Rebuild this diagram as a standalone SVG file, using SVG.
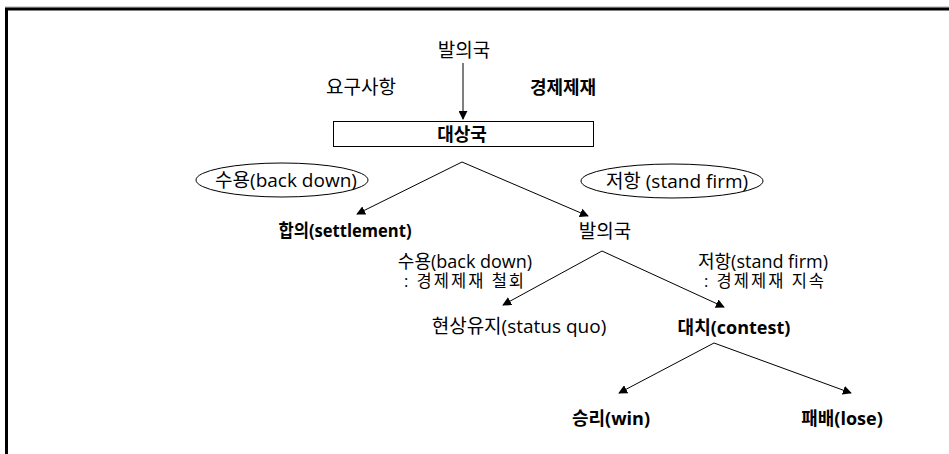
<svg xmlns="http://www.w3.org/2000/svg" width="949" height="454" viewBox="0 0 949 454">
<style>
text{font-family:"Open Sans","Noto Sans CJK KR",sans-serif;font-size:19px;fill:#000;text-anchor:middle}
.b{font-weight:bold;font-size:18px}
.s{font-size:18px}
.t{font-size:16.5px;letter-spacing:2px}
.e{fill:none;stroke:#000;stroke-width:1}
.c{fill:none;stroke:#000;stroke-width:1}
</style>
<defs>
<marker id="ah" viewBox="0 0 10 10" refX="9" refY="5" markerWidth="9" markerHeight="9" markerUnits="userSpaceOnUse" orient="auto">
<path d="M0,0L10,5L0,10z" fill="#000"/>
</marker>
</defs>
<rect x="0" y="0" width="949" height="454" fill="#fff"/>
<line x1="5" y1="7" x2="949" y2="7" stroke="#aaa" stroke-width="1"/>
<line x1="5" y1="9" x2="949" y2="9" stroke="#000" stroke-width="3"/>
<line x1="6.5" y1="8" x2="6.5" y2="454" stroke="#000" stroke-width="3"/>
<g id="connectors">
<line class="c" x1="463" y1="63" x2="463" y2="119" marker-end="url(#ah)"/>
<line class="c" x1="462" y1="162" x2="357" y2="214" marker-end="url(#ah)"/>
<line class="c" x1="462" y1="162" x2="588" y2="216" marker-end="url(#ah)"/>
<line class="c" x1="602" y1="251" x2="503" y2="305" marker-end="url(#ah)"/>
<line class="c" x1="602" y1="251" x2="724" y2="307" marker-end="url(#ah)"/>
<line class="c" x1="714" y1="343" x2="619" y2="393" marker-end="url(#ah)"/>
<line class="c" x1="714" y1="343" x2="851" y2="393" marker-end="url(#ah)"/>
</g>
<g id="n-initiator"><text x="464" y="57">발의국</text></g>
<g id="l-demand"><text x="361" y="94">요구사항</text></g>
<g id="l-sanction"><text class="b" x="563" y="94">경제제재</text></g>
<g id="n-target"><rect x="333.5" y="121.5" width="260" height="25" fill="none" stroke="#000"/><text class="b" x="462" y="141">대상국</text></g>
<g id="e-backdown"><ellipse class="e" cx="282" cy="180" rx="86" ry="17"/><text x="286" y="187">수용(back down)</text></g>
<g id="e-standfirm"><ellipse class="e" cx="672" cy="181" rx="91" ry="17"/><text x="677" y="188">저항 (stand firm)</text></g>
<g id="n-settlement"><text class="b" x="345" y="237" textLength="133" lengthAdjust="spacingAndGlyphs">합의(settlement)</text></g>
<g id="n-initiator2"><text x="605" y="238">발의국</text></g>
<g id="l-backdown2"><text class="s" x="465" y="268">수용(back down)</text><text class="t" x="465" y="287">: 경제제재 철회</text></g>
<g id="l-standfirm2"><text class="s" x="763" y="268">저항(stand firm)</text><text class="t" x="765" y="287">: 경제제재 지속</text></g>
<g id="n-statusquo"><text x="519" y="333">현상유지(status quo)</text></g>
<g id="n-contest"><text class="b" x="734" y="334">대치(contest)</text></g>
<g id="n-win"><text class="b" x="611" y="425">승리(win)</text></g>
<g id="n-lose"><text class="b" x="842" y="425">패배(lose)</text></g>
</svg>
